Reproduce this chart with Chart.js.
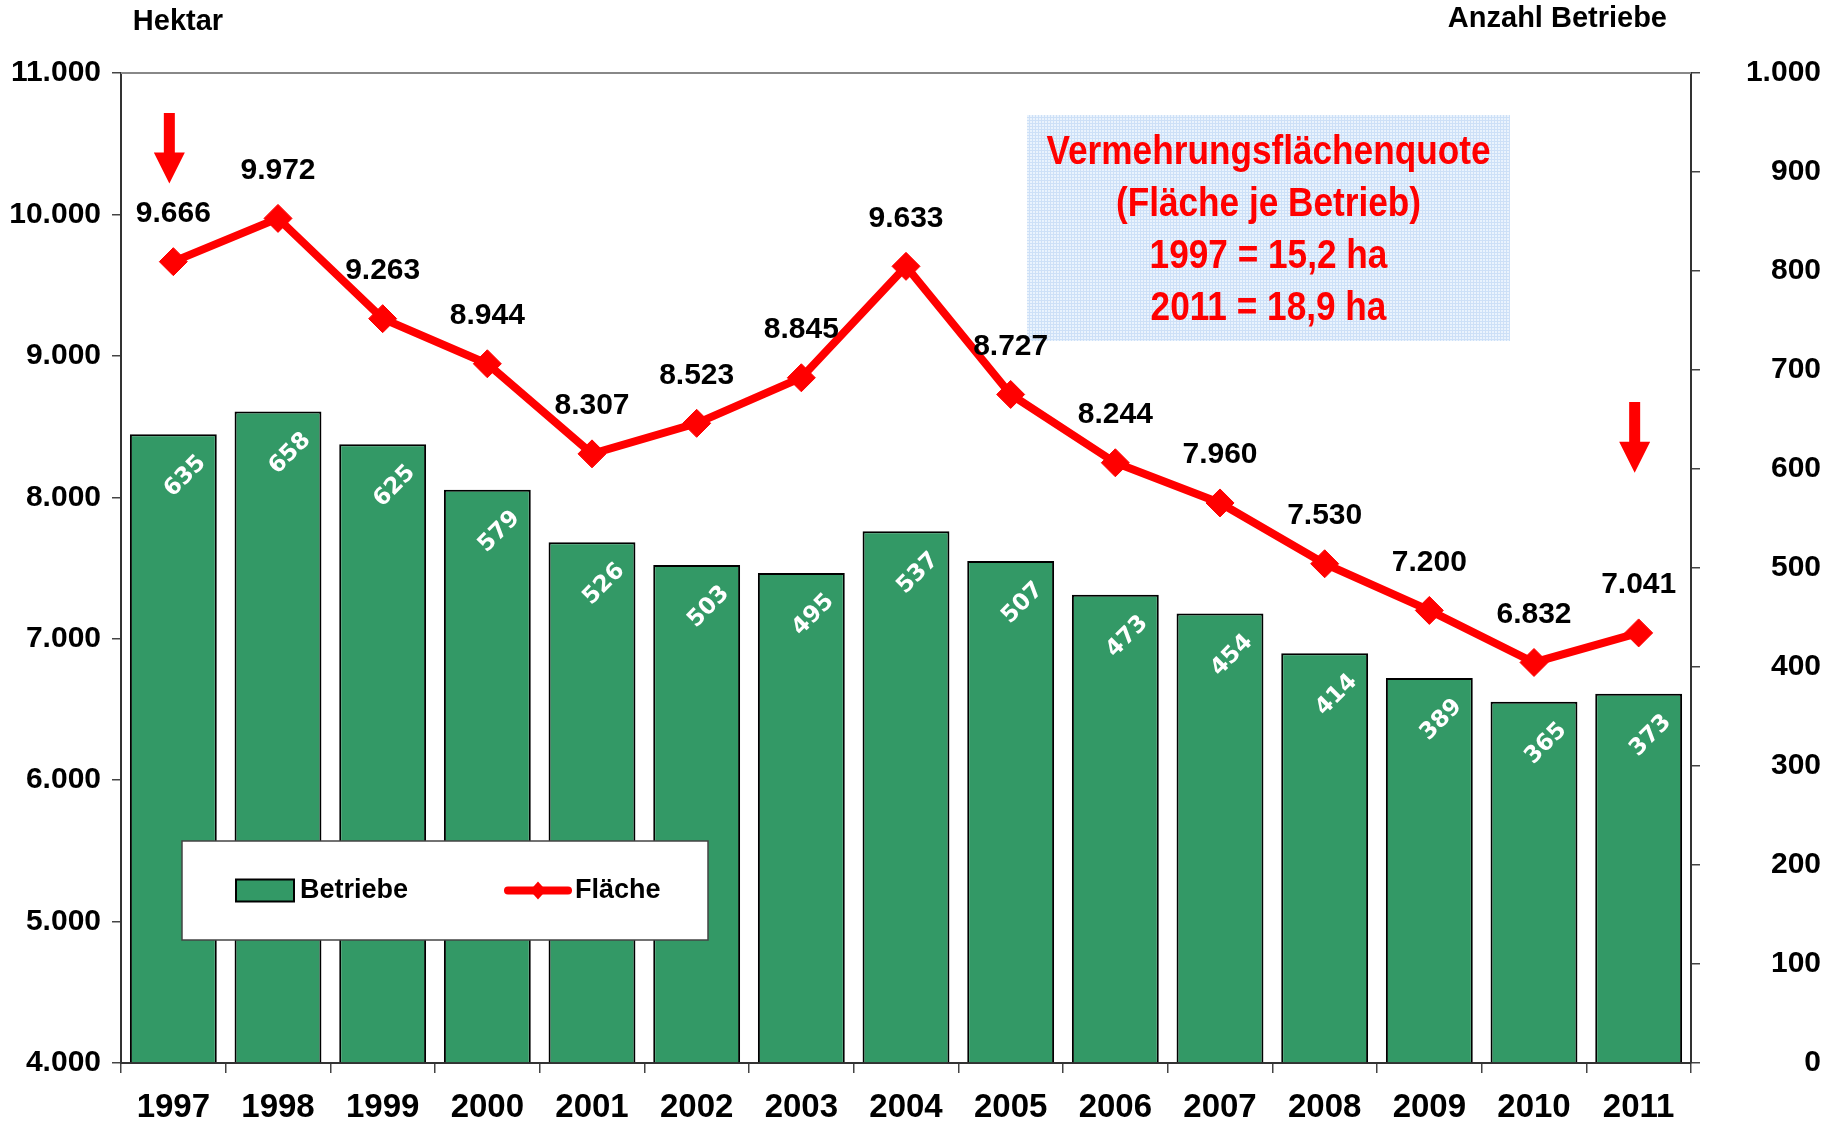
<!DOCTYPE html>
<html lang="de">
<head>
<meta charset="utf-8">
<title>Vermehrungsfläche und Betriebe 1997–2011</title>
<script src="https://cdn.jsdelivr.net/npm/chart.js@4.4.1/dist/chart.umd.min.js"></script>
<style>
  html, body { margin: 0; padding: 0; background: #fff; }
  #wrap { width: 1838px; height: 1127px; }
</style>
</head>
<body>
<div id="wrap"><canvas id="chart" width="1838" height="1127"></canvas></div>
<script>
// Data
const years = ['1997', '1998', '1999', '2000', '2001', '2002', '2003', '2004',
               '2005', '2006', '2007', '2008', '2009', '2010', '2011'];
const betriebe = [635, 658, 625, 579, 526, 503, 495, 537, 507, 473, 454, 414, 389, 365, 373];
const flaeche = [9666, 9972, 9263, 8944, 8307, 8523, 8845, 9633, 8727, 8244, 7960, 7530, 7200, 6832, 7041];

// Axis ticks
const hektarTicks = [4000, 5000, 6000, 7000, 8000, 9000, 10000, 11000];
const betriebeTicks = [0, 100, 200, 300, 400, 500, 600, 700, 800, 900, 1000];

// Info box text
const infoLines = ['Vermehrungsflächenquote', '(Fläche je Betrieb)', '1997 = 15,2 ha', '2011 = 18,9 ha'];

// Red arrows: category index, top and tip in hectare units
const arrowIndex = [0, 14];
const arrowTop = [10718, 8674];
const arrowTip = [10218, 8173];

const GREEN = '#339966';
const RED = '#ff0000';
const FONT = '"Liberation Sans", Arial, sans-serif';

// German thousands separator
function fmt(v) {
    return String(v).replace(/\B(?=(\d{3})+(?!\d))/g, '.');
}

// Light blue dotted grid for the info box
function makePattern(ctx) {
    const c = document.createElement('canvas');
    c.width = 3; c.height = 3;
    const p = c.getContext('2d');
    p.fillStyle = '#eaf3fd';
    p.fillRect(0, 0, 3, 3);
    p.fillStyle = '#cde0f7';
    p.fillRect(0, 0, 3, 1);
    p.fillRect(0, 0, 1, 3);
    return ctx.createPattern(c, 'repeat');
}

const extras = {
    id: 'extras',
    beforeDatasetsDraw(chart) {
        const { ctx, chartArea: a } = chart;
        ctx.save();

        // top frame line
        ctx.strokeStyle = '#888';
        ctx.lineWidth = 2;
        ctx.beginPath();
        ctx.moveTo(a.left, a.top);
        ctx.lineTo(a.right, a.top);
        ctx.stroke();

        // info box
        const bx = 1027, by = 115, bw = 483, bh = 226;
        ctx.fillStyle = makePattern(ctx);
        ctx.fillRect(bx, by, bw, bh);
        ctx.fillStyle = RED;
        ctx.font = 'bold 40px ' + FONT;
        ctx.textAlign = 'center';
        ctx.textBaseline = 'middle';
        infoLines.forEach((t, i) => {
            ctx.save();
            ctx.translate(bx + bw / 2, by + 38 + i * 52);
            ctx.scale(0.88, 1);
            ctx.fillText(t, 0, 0);
            ctx.restore();
        });
        ctx.restore();
    },
    afterDatasetsDraw(chart) {
        const { ctx, scales: { x, y } } = chart;
        ctx.save();

        // bar labels, rotated white
        ctx.fillStyle = '#fff';
        ctx.font = 'bold 23px "DejaVu Sans", sans-serif';
        ctx.textAlign = 'center';
        ctx.textBaseline = 'middle';
        chart.getDatasetMeta(1).data.forEach((bar, i) => {
            ctx.save();
            ctx.translate(bar.x + 12, bar.y + 42);
            ctx.rotate(-Math.PI / 4);
            ctx.fillText(String(betriebe[i]), 0, 0);
            ctx.restore();
        });

        // line labels
        ctx.fillStyle = '#000';
        ctx.font = 'bold 30px ' + FONT;
        chart.getDatasetMeta(0).data.forEach((pt, i) => {
            ctx.fillText(fmt(flaeche[i]), pt.x, pt.y - 48);
        });

        // arrows
        ctx.fillStyle = RED;
        arrowIndex.forEach((idx, i) => {
            const cx = x.getPixelForValue(idx) - 4;
            const t = y.getPixelForValue(arrowTop[i]);
            const tip = y.getPixelForValue(arrowTip[i]);
            const hh = 31;
            ctx.beginPath();
            ctx.moveTo(cx - 5.5, t);
            ctx.lineTo(cx + 5.5, t);
            ctx.lineTo(cx + 5.5, tip - hh);
            ctx.lineTo(cx + 15.5, tip - hh);
            ctx.lineTo(cx, tip);
            ctx.lineTo(cx - 15.5, tip - hh);
            ctx.lineTo(cx - 5.5, tip - hh);
            ctx.closePath();
            ctx.fill();
        });

        // legend box
        const lx = 182, ly = 841, lw = 526, lh = 99;
        ctx.fillStyle = '#fff';
        ctx.fillRect(lx, ly, lw, lh);
        ctx.strokeStyle = '#444';
        ctx.lineWidth = 1.5;
        ctx.strokeRect(lx, ly, lw, lh);

        const ds = chart.data.datasets;
        const midY = ly + lh / 2;
        ctx.fillStyle = GREEN;
        ctx.fillRect(236, midY - 11, 58, 22);
        ctx.strokeStyle = '#000';
        ctx.lineWidth = 2;
        ctx.strokeRect(236, midY - 11, 58, 22);

        ctx.strokeStyle = RED;
        ctx.lineWidth = 8;
        ctx.lineCap = 'round';
        ctx.beginPath();
        ctx.moveTo(508, midY);
        ctx.lineTo(568, midY);
        ctx.stroke();
        ctx.fillStyle = RED;
        ctx.beginPath();
        ctx.moveTo(538, midY - 9);
        ctx.lineTo(546, midY);
        ctx.lineTo(538, midY + 9);
        ctx.lineTo(530, midY);
        ctx.closePath();
        ctx.fill();

        ctx.fillStyle = '#000';
        ctx.font = 'bold 27px ' + FONT;
        ctx.textAlign = 'left';
        ctx.fillText(ds[1].label, 300, midY);
        ctx.fillText(ds[0].label, 575, midY);

        // axis titles
        ctx.font = 'bold 29px ' + FONT;
        ctx.textAlign = 'center';
        ctx.fillText('Hektar', 178, 22);
        ctx.textAlign = 'right';
        ctx.fillText('Anzahl Betriebe', 1667, 19);

        ctx.restore();
    }
};

Chart.defaults.font.family = FONT;
Chart.defaults.font.weight = 'bold';
Chart.defaults.color = '#000';

const ctx = document.getElementById('chart').getContext('2d');
new Chart(ctx, {
    data: {
        labels: years,
        datasets: [{
            type: 'line',
            label: 'Fläche',
            data: flaeche,
            yAxisID: 'y',
            borderColor: RED,
            backgroundColor: RED,
            borderWidth: 8,
            tension: 0,
            pointStyle: 'rectRot',
            pointRadius: 14,
            pointBackgroundColor: RED,
            pointBorderColor: RED,
            pointBorderWidth: 1,
            order: 0
        }, {
            type: 'bar',
            label: 'Betriebe',
            data: betriebe,
            yAxisID: 'y1',
            backgroundColor: GREEN,
            borderColor: '#000',
            borderWidth: 2,
            barPercentage: 0.83,
            categoryPercentage: 1,
            order: 1
        }]
    },
    options: {
        responsive: false,
        animation: false,
        devicePixelRatio: 1,
        layout: { padding: { top: 73, right: 17, left: 0, bottom: 0 } },
        plugins: {
            legend: { display: false },
            tooltip: { enabled: false }
        },
        scales: {
            x: {
                grid: { offset: true, drawOnChartArea: false, tickLength: 10, color: '#444', lineWidth: 1.5 },
                border: { color: '#333', width: 2 },
                ticks: { color: '#000', font: { size: 33, weight: 'bold' }, padding: 15, maxRotation: 0, autoSkip: false },
                afterFit: s => { s.height = 57; }
            },
            y: {
                position: 'left',
                min: 4000,
                max: 11000,
                afterBuildTicks: s => { s.ticks = hektarTicks.map(v => ({ value: v })); },
                grid: { drawOnChartArea: false, tickLength: 9, color: '#444', lineWidth: 1.5 },
                border: { color: '#333', width: 2 },
                ticks: { color: '#000', font: { size: 30, weight: 'bold' }, padding: 11, callback: v => fmt(v) },
                afterFit: s => { s.width = 121; }
            },
            y1: {
                position: 'right',
                min: 0,
                max: 1000,
                afterBuildTicks: s => { s.ticks = betriebeTicks.map(v => ({ value: v })); },
                grid: { drawOnChartArea: false, tickLength: 9, color: '#444', lineWidth: 1.5 },
                border: { color: '#333', width: 2 },
                ticks: { color: '#000', font: { size: 30, weight: 'bold' }, padding: 46, crossAlign: 'far', callback: v => fmt(v) },
                afterFit: s => { s.width = 130; }
            }
        }
    },
    plugins: [extras]
});
</script>
</body>
</html>
